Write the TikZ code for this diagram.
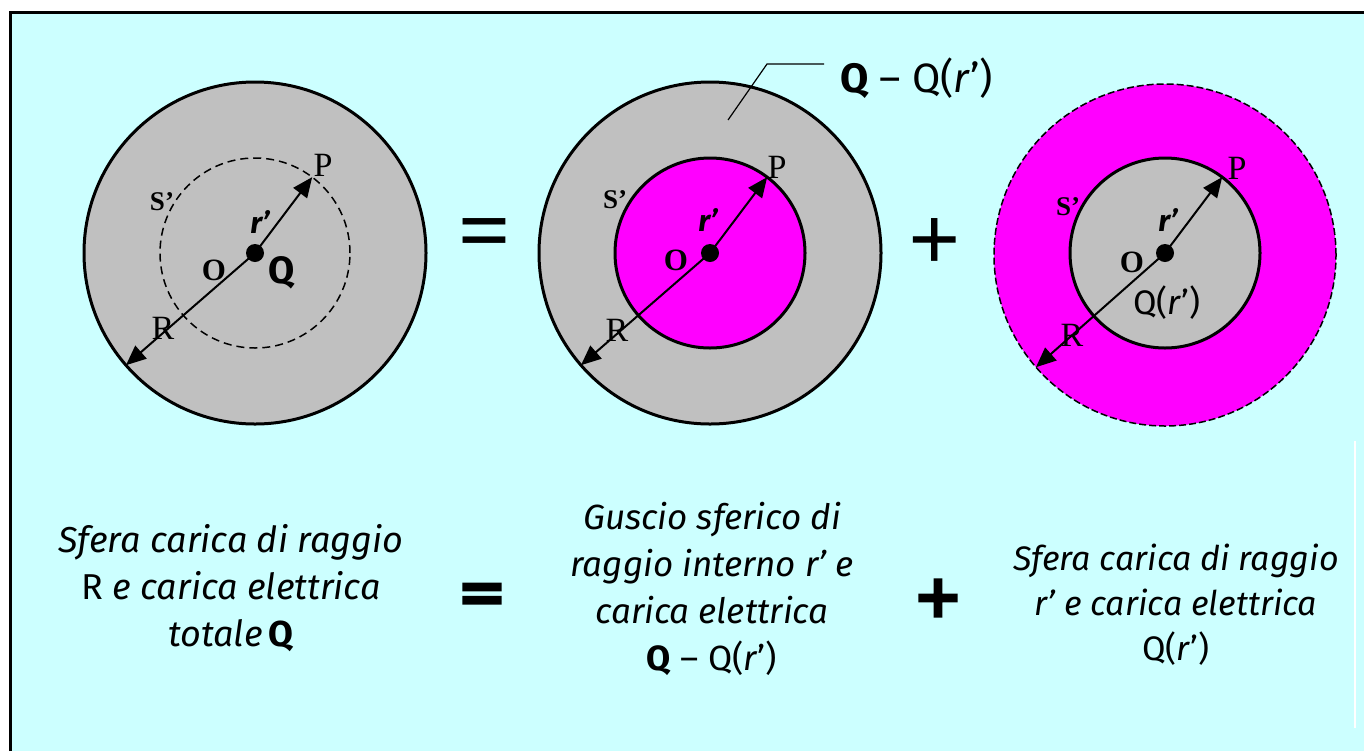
\documentclass[tikz,border=0pt]{standalone}
\usepackage{fontspec}
\setmainfont{Liberation Serif}
\newfontfamily\handfont{Fira Sans}
\newfontfamily\fatfont[FakeBold=3]{DejaVu Sans}
\usetikzlibrary{arrows.meta}
\definecolor{sky}{RGB}{204,255,255}
\definecolor{ballgray}{RGB}{192,192,192}
\definecolor{charged}{RGB}{255,0,255}

\begin{document}
\begin{tikzpicture}[x=0.5pt, y=-0.5pt,
    sphere/.style = {circle, draw, line width=1.5pt, inner sep=0pt, outer sep=0pt, minimum size=171pt},
    gauss/.style  = {circle, draw, line width=1.5pt, inner sep=0pt, outer sep=0pt, minimum size=95pt},
    centre/.style = {circle, fill, inner sep=0pt, minimum size=9pt},
    rad/.style    = {-{Triangle[length=10pt, width=8.5pt]}, line width=1pt},
    ptlbl/.style  = {font=\fontsize{17}{17}\selectfont, inner sep=0pt},
    olbl/.style   = {font=\fontsize{15.5}{15.5}\selectfont\bfseries, inner sep=0pt},
    slbl/.style   = {font=\fontsize{13.5}{13.5}\selectfont\bfseries, inner sep=0pt},
    rlbl/.style   = {font=\handfont\fontsize{15}{15}\selectfont\bfseries\itshape, inner sep=0pt},
    qlbl/.style   = {font=\handfont\fontsize{17}{17}\selectfont, inner sep=0pt},
    caption/.style = {font=\handfont\fontsize{17.5}{23.5}\selectfont\itshape, align=center},
    bigop/.style  = {font=\fontsize{46}{46}\selectfont\bfseries, inner sep=0pt},
    fatop/.style  = {font=\fatfont\fontsize{30}{30}\selectfont\bfseries, inner sep=0pt}
  ]
  \useasboundingbox (0,0) rectangle (1364,751);
  % background panel
  \fill[sky] (10,12) rectangle (1364,751);
  \draw[line width=1.5pt] (10,751) -- (10,12) -- (1364,12);
  \draw[white, line width=1pt] (1355,441) -- (1355,728);

  % first sphere: total charge Q
  \node[sphere, fill=ballgray] (big1) at (255,253) {};
  \node[gauss, dashed, line width=0.75pt, dash pattern=on 4pt off 2.5pt] (s1) at (255,253) {};
  \node[centre] (o1) at (255,253) {};
  \draw[rad] (o1.center) -- (s1.53);
  \draw[rad] (o1.center) -- (big1.221);
  \node[ptlbl] (p1) at (323,165) {P};
  \node[slbl]  (sl1) at (162,202) {S’};
  \node[rlbl]  (r1) at (260,222) {r’};
  \node[olbl]  (ol1) at (214,270) {O};
  \node[qlbl, font=\handfont\fontsize{19}{19}\selectfont\bfseries] (q1) at (282,273) {Q};
  \node[ptlbl] (rr1) at (163,328) {R};

  \node[bigop] (eq) at (485,240) {=};

  % second sphere: shell with the charge Q - Q(r')
  \node[sphere, fill=ballgray] (big2) at (710,253) {};
  \node[gauss, fill=charged] (s2) at (710,253) {};
  \node[centre] (o2) at (710,253) {};
  \draw[rad] (o2.center) -- (s2.53);
  \draw[rad] (o2.center) -- (big2.221);
  \node[ptlbl] (p2) at (777,167) {P};
  \node[slbl]  (sl2) at (615,200) {S’};
  \node[rlbl]  (r2) at (708,220) {r’};
  \node[olbl]  (ol2) at (676,260) {O};
  \node[ptlbl] (rr2) at (617,330) {R};

  % leader to the shell charge
  \coordinate (tip) at (728,120);
  \coordinate (knee) at (767,64);
  \coordinate (lead) at (824,64);
  \draw[line width=0.6pt] (tip) -- (knee) -- (lead);
  \node[qlbl, anchor=west, font=\handfont\fontsize{20.5}{20.5}\selectfont] (shellq) at (840,78) {\textbf{Q} – Q(\textit{r}’)};

  \node[bigop] (plus) at (935,245) {+};

  % third sphere: inner sphere with the charge Q(r')
  \node[sphere, fill=charged, dashed, line width=0.75pt, dash pattern=on 3.5pt off 1.5pt] (big3) at (1165,255) {};
  \node[gauss, fill=ballgray] (s3) at (1165,253) {};
  \node[centre] (o3) at (1165,253) {};
  \draw[rad] (o3.center) -- (s3.53);
  \draw[rad] (o3.center) -- (big3.221);
  \node[ptlbl] (p3) at (1237,168) {P};
  \node[slbl]  (sl3) at (1068,207) {S’};
  \node[rlbl]  (r3) at (1168,220) {r’};
  \node[olbl]  (ol3) at (1132,262) {O};
  \node[qlbl] (q3) at (1167,303) {Q(\textit{r}’)};
  \node[ptlbl] (rr3) at (1072,335) {R};

  % captions
  \node[caption, font=\handfont\fontsize{18}{23.5}\selectfont\itshape] (cap1) at (231,588) {Sfera carica di raggio\\\upshape R \itshape e carica elettrica\\totale\,\upshape\bfseries Q};
  \node[fatop] (eqb) at (482,598) {=};
  \node[caption] (cap2) at (712,589) {Guscio sferico di\\raggio interno r’ e\\carica elettrica\\\upshape\textbf{Q} – Q(\textit{r}’)};
  \node[fatop] (plusb) at (938,598) {+};
  \node[caption, font=\handfont\fontsize{17}{22.5}\selectfont\itshape] (cap3) at (1176,605) {Sfera carica di raggio\\r’ e carica elettrica\\\upshape Q(\textit{r}’)};
\end{tikzpicture}
\end{document}
